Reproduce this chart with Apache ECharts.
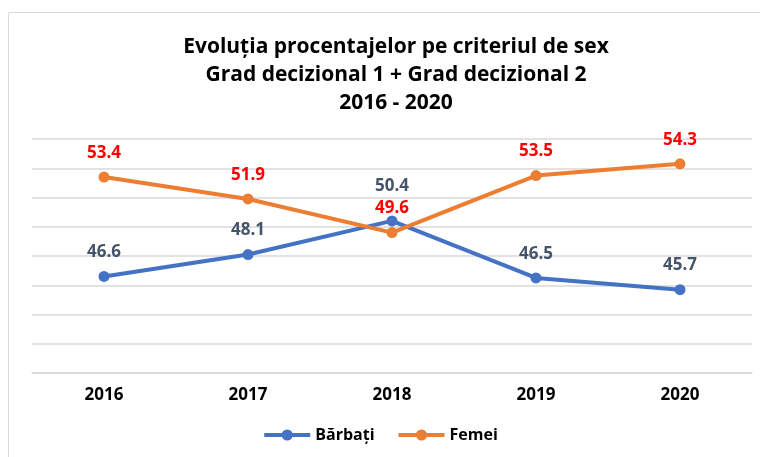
<!DOCTYPE html>
<html>
<head>
<meta charset="utf-8">
<script src="https://cdn.jsdelivr.net/npm/echarts@6/dist/echarts.min.js"></script>
<style>
  html, body { margin: 0; padding: 0; background: #fff; }
  #chart { width: 760px; height: 457px; }
</style>
</head>
<body>
<div id="chart"></div>
<script>
// date
var ani = ['2016', '2017', '2018', '2019', '2020'];
var barbati = [46.6, 48.1, 50.4, 46.5, 45.7];
var femei = [53.4, 51.9, 49.6, 53.5, 54.3];
var yMin = 40, yMax = 56, yPas = 2;

var font = '"Open Sans", "Liberation Sans", sans-serif';

var myChart = echarts.init(document.getElementById('chart'));

// eticheta pentru 2018 (barbati) sta mai sus
var dateBarbati = barbati.map(function (v, i) {
  if (i === 2) return { value: v, label: { distance: 21 } };
  return v;
});

var option = {
  backgroundColor: '#fff',
  animation: false,
  title: {
    text: 'Evoluția procentajelor pe criteriul de sex\nGrad decizional 1 + Grad decizional 2\n2016 - 2020',
    left: 391,
    textAlign: 'center',
    top: 28,
    textStyle: {
      fontFamily: font,
      fontWeight: 'bold',
      fontSize: 21,
      lineHeight: 28,
      color: '#000'
    }
  },
  graphic: [{
    type: 'rect',
    shape: { x: 8.5, y: 12.5, width: 770, height: 460 },
    style: { fill: 'none', stroke: '#d9d9d9', lineWidth: 1 },
    silent: true
  }],
  grid: {
    left: 32,
    width: 720,
    top: 139,
    height: 234
  },
  legend: {
    bottom: 9,
    left: 'center',
    itemWidth: 46,
    itemHeight: 14,
    itemGap: 22,
    lineStyle: { width: 4 },
    textStyle: {
      fontFamily: font,
      fontWeight: 'bold',
      fontSize: 16,
      color: '#000'
    },
    data: ['Bărbați', 'Femei']
  },
  xAxis: {
    type: 'category',
    data: ani,
    boundaryGap: true,
    axisLine: { lineStyle: { color: '#d9d9d9', width: 1.5 } },
    axisTick: { show: false },
    axisLabel: {
      margin: 14,
      fontFamily: font,
      fontWeight: 'bold',
      fontSize: 17,
      color: '#000'
    }
  },
  yAxis: {
    type: 'value',
    min: yMin,
    max: yMax,
    interval: yPas,
    axisLabel: { show: false },
    axisLine: { show: false },
    axisTick: { show: false },
    splitLine: { lineStyle: { color: '#d9d9d9', width: 1.5 } }
  },
  series: [
    {
      name: 'Bărbați',
      type: 'line',
      data: dateBarbati,
      symbol: 'circle',
      symbolSize: 11,
      itemStyle: { color: '#4472C4' },
      lineStyle: { color: '#4472C4', width: 4 },
      label: {
        show: true,
        position: 'top',
        distance: 10,
        fontFamily: font,
        fontWeight: 'bold',
        fontSize: 17,
        color: '#44546A'
      }
    },
    {
      name: 'Femei',
      type: 'line',
      data: femei,
      symbol: 'circle',
      symbolSize: 11,
      itemStyle: { color: '#ED7D31' },
      lineStyle: { color: '#ED7D31', width: 4 },
      label: {
        show: true,
        position: 'top',
        distance: 10,
        fontFamily: font,
        fontWeight: 'bold',
        fontSize: 17,
        color: '#FF0000'
      }
    }
  ]
};

myChart.setOption(option);
</script>
</body>
</html>
